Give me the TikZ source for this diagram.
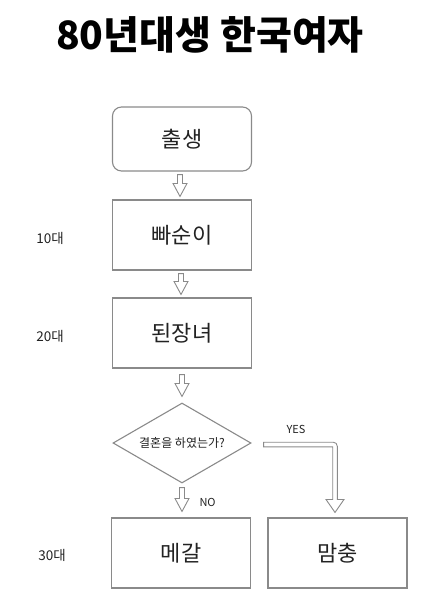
\documentclass[tikz,border=0pt]{standalone}
\usepackage{fontspec}
\setmainfont{Noto Sans CJK KR}
\usetikzlibrary{shapes.geometric,calc}
\definecolor{lineg}{HTML}{8A8A8A}
\definecolor{txt}{HTML}{222222}
\tikzset{
  box/.style={draw=lineg, line width=1.1pt, minimum width=139pt, minimum height=70pt, inner sep=0pt, font=\fontsize{22}{22}\selectfont, text=txt},
  arr/.style={draw=lineg, line width=0.9pt, line join=miter},
  age/.style={font=\fontsize{13.5}{13.5}\selectfont, text=txt},
  yn/.style={font=\fontsize{11}{11}\selectfont, text=txt}
}
\newcommand\hdown[2]{%
  \draw[arr] let \p1=(#1), \p2=(#2) in
   (\x1-2.5pt,\y1) -- (\x1+2.5pt,\y1) -- (\x1+2.5pt,\y2+13pt) -- (\x1+7pt,\y2+13pt)
   -- (\x1,\y2) -- (\x1-7pt,\y2+13pt) -- (\x1-2.5pt,\y2+13pt) -- cycle;}
\begin{document}
\begin{tikzpicture}[x=1pt,y=-1pt]
\useasboundingbox (0,0) rectangle (432,602);
\node[font=\fontsize{39}{39}\selectfont\bfseries] (title) at (210,35) {80년대생 한국여자};

\node[box, rounded corners=9pt, minimum height=64pt] (b0) at (182,139) {출생};
\node[box] (b1) at (182,235) {빠순이};
\node[box] (b2) at (182,333) {된장녀};
\node[draw=lineg, line width=1.1pt, diamond, minimum width=138pt, minimum height=80pt, inner sep=0pt, aspect=1.72, font=\fontsize{12}{12}\selectfont, text=txt] (dia) at (182,443) {결혼을 하였는가?};
\node[box] (b3) at (181,553) {메갈};
\node[box] (b4) at (337.5,553) {맘충};

\node[age] (a10) at (50,238) {10대};
\node[age] (a20) at (50,336) {20대};
\node[age] (a30) at (52,555) {30대};

\coordinate (s1) at ($(b0.south)+(-2,3)$);
\coordinate (e1) at ($(b1.north)+(-2,-3)$);
\coordinate (s2) at ($(b1.south)+(-1,3)$);
\coordinate (e2) at ($(b2.north)+(-1,-3)$);
\coordinate (s3) at ($(b2.south)+(0,6)$);
\coordinate (e3) at ($(dia.north)+(0,-6)$);
\coordinate (s4) at ($(dia.south)+(0,4)$);
\coordinate (e4) at ($(b3.north)+(1,-6)$);
\hdown{s1}{e1}
\hdown{s2}{e2}
\hdown{s3}{e3}
\hdown{s4}{e4}

\coordinate (ys) at ($(dia.east)+(12,1.5)$);
\coordinate (yt) at ($(b4.north)+(-2.5,-5)$);
\draw[arr] let \p1=(ys), \p2=(yt) in
  (\x1,\y1+2.3pt) [rounded corners=4pt] -- (\x2+2.3pt,\y1+2.3pt) [sharp corners] -- (\x2+2.3pt,\y2+13pt)
  -- (\x2+9pt,\y2+13pt) -- (\x2,\y2) -- (\x2-9pt,\y2+13pt) -- (\x2-2.3pt,\y2+13pt)
  -- (\x2-2.3pt,\y1-2.3pt) -- (\x1,\y1-2.3pt) -- cycle;

\node[yn, anchor=west] (no) at ($(s4)+(14,15)$) {NO};
\node[yn] (yes) at (296,429) {YES};
\end{tikzpicture}
\end{document}
